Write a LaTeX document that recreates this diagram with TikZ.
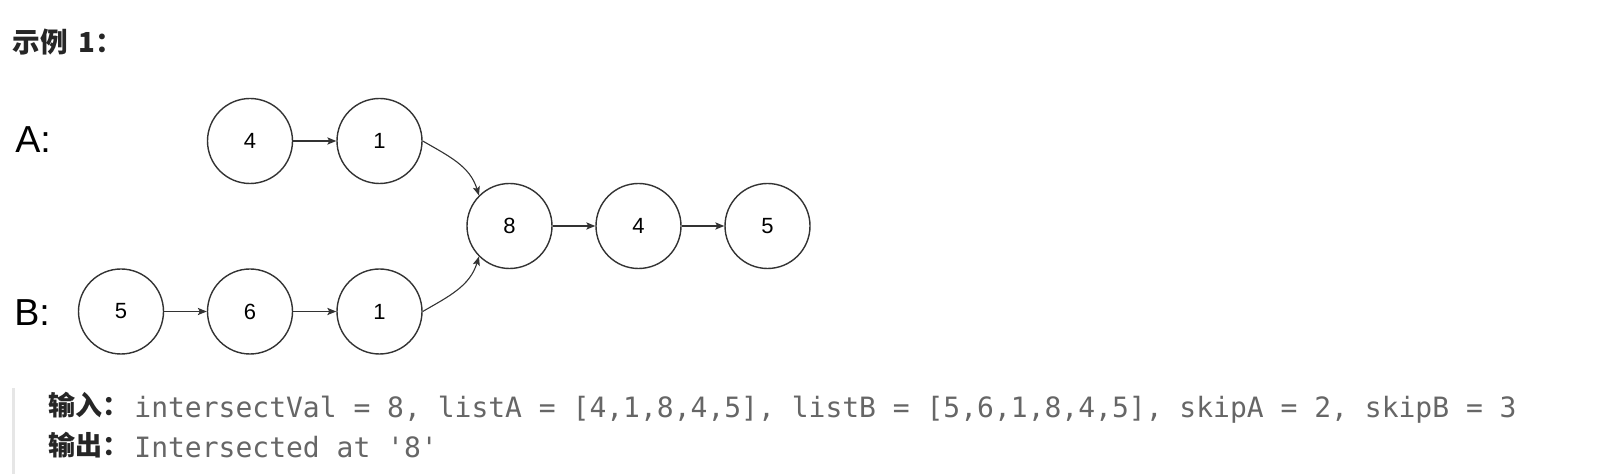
\documentclass[tikz,border=0pt]{standalone}
\usepackage{fontspec}
\setmainfont{Liberation Sans}
\newfontfamily\cjk{Noto Sans CJK SC}
\newfontfamily\monof{DejaVu Sans Mono}
\usetikzlibrary{arrows.meta}
\definecolor{ink}{HTML}{333333}
\definecolor{txt}{HTML}{262626}
\definecolor{codegray}{HTML}{666666}
\definecolor{barcol}{HTML}{E6E6E6}
\begin{document}
\begin{tikzpicture}[x=0.5pt,y=-0.5pt,
  listnode/.style={circle,draw=ink,line width=0.7pt,minimum size=42.5pt,inner sep=0pt,font=\fontsize{11}{13}\selectfont},
  link/.style={draw=ink,line width=0.55pt,-{Stealth[length=4.5pt,width=3.6pt,inset=1pt]}},
  rowlabel/.style={anchor=base west,inner sep=0pt,font=\fontsize{18.8}{20}\selectfont},
  cjklabel/.style={anchor=base west,inner sep=0pt,text=txt},
  codetext/.style={anchor=base west,inner sep=0pt,text=codegray,font=\monof\fontsize{14}{16}\selectfont}]
\useasboundingbox (0,0) rectangle (1604,474);

\node[cjklabel,font=\cjk\bfseries\fontsize{13.8}{16}\selectfont] (title) at (12,53) {示例\hspace{5.5pt}1：};

\node[rowlabel] (la) at (15,153) {A:};
\node[rowlabel] (lb) at (14,326) {B:};

\node[listnode] (a4) at (250,141) {4};
\node[listnode] (a1) at (379.5,141) {1};
\node[listnode] (n8) at (509.5,226) {8};
\node[listnode] (n4) at (638.5,226) {4};
\node[listnode] (n5) at (767.5,226) {5};
\node[listnode] (b5) at (121,311.5) {5};
\node[listnode] (b6) at (250,311.5) {6};
\node[listnode] (b1) at (379.5,311.5) {1};

\draw[link] (a4) -- (a1);
\draw[link] (n8) -- (n4);
\draw[link] (n4) -- (n5);
\draw[link] (b5) -- (b6);
\draw[link] (b6) -- (b1);
\draw[link] (a1.east) to[out=-30,in=107] (n8.135);
\draw[link] (b1.east) to[out=30,in=-107] (n8.225);

\fill[barcol] (12,388) rectangle (15,474);
\node[cjklabel,font=\cjk\bfseries\fontsize{13.5}{16}\selectfont] (inl) at (48,416) {输入：};
\node[codetext] (inv) at (134,418) {intersectVal = 8, listA = [4,1,8,4,5], listB = [5,6,1,8,4,5], skipA = 2, skipB = 3};
\node[cjklabel,font=\cjk\bfseries\fontsize{13.5}{16}\selectfont] (outl) at (48,456) {输出：};
\node[codetext] (outv) at (134,458) {Intersected at '8'};
\end{tikzpicture}
\end{document}
